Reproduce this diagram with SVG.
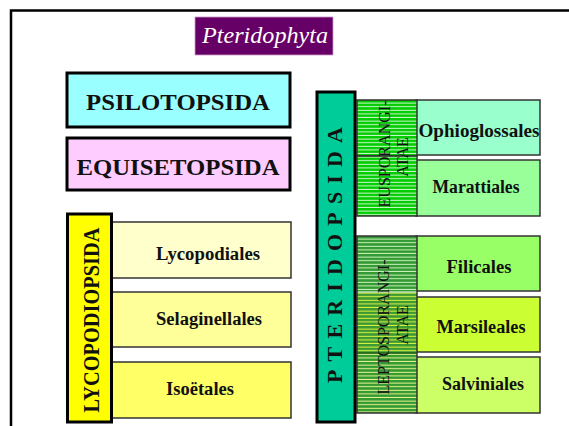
<svg xmlns="http://www.w3.org/2000/svg" width="569" height="426" viewBox="0 0 569 426">
<style>
.cls{stroke:#000;stroke-width:3}
.sub{stroke:#333;stroke-width:1.5}
.t{font-family:"Liberation Serif","Times New Roman",serif;fill:#111}
.big{font-size:24px;font-weight:bold}
.ord{font-size:18px;font-weight:bold}
.vert{font-size:16px}
</style>
<defs>
<pattern id="pEu" patternUnits="userSpaceOnUse" width="10" height="3.6" y="100">
<rect width="10" height="3.6" fill="#00cc00"/><rect y="2.6" width="10" height="0.9" fill="#e8ffe8"/>
</pattern>
<pattern id="pL1" patternUnits="userSpaceOnUse" width="10" height="3.6" y="236">
<rect width="10" height="3.6" fill="#339933"/><rect y="2.6" width="10" height="0.9" fill="#ddffcc"/>
</pattern>
<pattern id="pL2" patternUnits="userSpaceOnUse" width="10" height="3.6" y="236">
<rect width="10" height="3.6" fill="#3d9933"/><rect y="2.6" width="10" height="0.9" fill="#eeff44"/>
</pattern>
<pattern id="pL3" patternUnits="userSpaceOnUse" width="10" height="3.6" y="236">
<rect width="10" height="3.6" fill="#339933"/><rect y="2.6" width="10" height="0.9" fill="#ffff99"/>
</pattern>
</defs>
<rect width="569" height="426" fill="#fff"/>
<path d="M11 426 V10.5 H569" fill="none" stroke="#000" stroke-width="2.5"/>

<g id="title">
<rect x="195" y="17" width="138" height="38" fill="#660066" stroke="#cc99cc" stroke-width="0.8"/>
<text x="265" y="43" text-anchor="middle" font-family="Liberation Serif,serif" font-style="italic" font-size="24" fill="#fff" textLength="126" lengthAdjust="spacingAndGlyphs">Pteridophyta</text>
</g>

<g id="psilotopsida">
<rect class="cls" x="67" y="73" width="223" height="54" fill="#99ffff"/>
<text class="t big" x="178" y="110" text-anchor="middle" textLength="184" lengthAdjust="spacingAndGlyphs">PSILOTOPSIDA</text>
</g>
<g id="equisetopsida">
<rect class="cls" x="67" y="138" width="223" height="52" fill="#ffccff"/>
<text class="t big" x="178" y="175" text-anchor="middle" textLength="203" lengthAdjust="spacingAndGlyphs">EQUISETOPSIDA</text>
</g>

<g id="lycopodiales">
<rect class="sub" x="110" y="222" width="181" height="56" fill="#ffffcc"/>
<text class="t ord" x="208" y="260" text-anchor="middle" textLength="104" lengthAdjust="spacingAndGlyphs">Lycopodiales</text>
</g>
<g id="selaginellales">
<rect class="sub" x="110" y="292" width="181" height="55" fill="#ffff99"/>
<text class="t ord" x="209" y="325" text-anchor="middle" textLength="106" lengthAdjust="spacingAndGlyphs">Selaginellales</text>
</g>
<g id="isoetales">
<rect class="sub" x="110" y="362" width="181" height="56" fill="#ffff66"/>
<text class="t ord" x="200" y="395" text-anchor="middle" textLength="68" lengthAdjust="spacingAndGlyphs">Isoëtales</text>
</g>
<g id="lycopodiopsida">
<rect class="cls" x="67.5" y="214" width="44" height="208" fill="#ffff00"/>
<text class="t" font-size="23" font-weight="bold" transform="translate(99 320) rotate(-90)" text-anchor="middle" textLength="185" lengthAdjust="spacingAndGlyphs">LYCOPODIOPSIDA</text>
</g>

<g id="ophioglossales">
<rect class="sub" x="416" y="100" width="124" height="55" fill="#99ffcc"/>
<text class="t ord" x="479" y="137" text-anchor="middle" textLength="121" lengthAdjust="spacingAndGlyphs">Ophioglossales</text>
</g>
<g id="marattiales">
<rect class="sub" x="416" y="160" width="124" height="56" fill="#99ff99"/>
<text class="t ord" x="476" y="193" text-anchor="middle" textLength="87" lengthAdjust="spacingAndGlyphs">Marattiales</text>
</g>
<g id="filicales">
<rect class="sub" x="416" y="236" width="124" height="55" fill="#99ff66"/>
<text class="t ord" x="479" y="273" text-anchor="middle" textLength="65" lengthAdjust="spacingAndGlyphs">Filicales</text>
</g>
<g id="marsileales">
<rect class="sub" x="416" y="297" width="124" height="55" fill="#ccff33"/>
<text class="t ord" x="481" y="333" text-anchor="middle" textLength="89" lengthAdjust="spacingAndGlyphs">Marsileales</text>
</g>
<g id="salviniales">
<rect class="sub" x="416" y="357" width="124" height="56" fill="#ccff66"/>
<text class="t ord" x="483" y="390" text-anchor="middle" textLength="82" lengthAdjust="spacingAndGlyphs">Salviniales</text>
</g>

<g id="eusporangiatae">
<rect class="sub" x="357" y="100" width="60" height="56" fill="url(#pEu)" stroke="#114411"/>
<rect class="sub" x="357" y="156" width="60" height="60" fill="url(#pEu)" stroke="#114411"/>
<text class="t vert" transform="translate(390 154) rotate(-90)" text-anchor="middle" textLength="107" lengthAdjust="spacingAndGlyphs">EUSPORANGI-</text>
<text class="t vert" transform="translate(408 157) rotate(-90)" text-anchor="middle">ATAE</text>
</g>
<g id="leptosporangiatae">
<rect x="357" y="236" width="60" height="56" fill="url(#pL1)"/>
<rect x="357" y="292" width="60" height="61" fill="url(#pL2)"/>
<rect x="357" y="353" width="60" height="60" fill="url(#pL3)"/>
<line x1="357" y1="292" x2="417" y2="292" stroke="#fff" stroke-width="1"/>
<line x1="357" y1="353" x2="417" y2="353" stroke="#114411" stroke-width="1"/>
<rect class="sub" x="357" y="236" width="60" height="177" fill="none" stroke="#114411"/>
<text class="t vert" transform="translate(389 327) rotate(-90)" text-anchor="middle" textLength="135" lengthAdjust="spacingAndGlyphs">LEPTOSPORANGI-</text>
<text class="t vert" transform="translate(408 325) rotate(-90)" text-anchor="middle">ATAE</text>
</g>

<g id="pteridopsida">
<rect class="cls" x="317" y="92" width="38" height="330" fill="#00cc99"/>
<text class="t" font-size="22" font-weight="bold" transform="translate(342 255) rotate(-90)" text-anchor="middle" textLength="256">PTERIDOPSIDA</text>
</g>
</svg>
